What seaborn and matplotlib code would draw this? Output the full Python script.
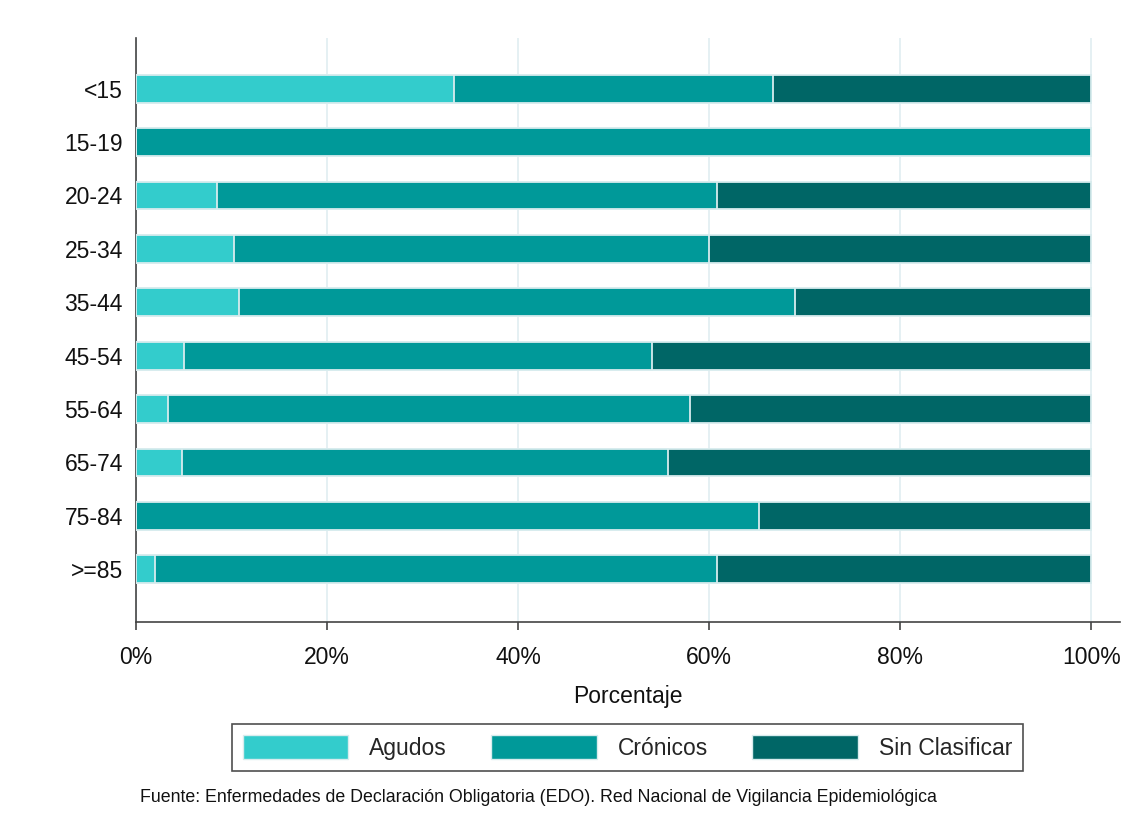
import numpy as np
import pandas as pd
import matplotlib
matplotlib.use('Agg')
import matplotlib.pyplot as plt
from matplotlib.patches import Patch
import seaborn as sns

# Data (percent of cases by age group)
grupos = ['<15', '15-19', '20-24', '25-34', '35-44', '45-54', '55-64', '65-74', '75-84', '>=85']
agudos = [33.3, 0.0, 8.5, 10.3, 10.8, 5.0, 3.4, 4.8, 0.0, 2.0]
cronicos = [33.4, 100.0, 52.3, 49.7, 58.2, 49.0, 54.6, 50.9, 65.2, 58.8]
sin_clasificar = [33.3, 0.0, 39.2, 40.0, 31.0, 46.0, 42.0, 44.3, 34.8, 39.2]

series = ['Agudos', 'Crónicos', 'Sin Clasificar']
colores = ['#33CCCC', '#009999', '#006666']

df = pd.DataFrame({'grupo': grupos, 'Agudos': agudos,
                   'Crónicos': cronicos, 'Sin Clasificar': sin_clasificar})

sns.set_style('white')
plt.rcParams['font.family'] = ['Liberation Sans', 'DejaVu Sans']

fs = 16.5

fig = plt.figure(figsize=(11.4, 8.34), dpi=100)
ax = fig.add_axes([0.1193, 0.2542, 0.8632, 0.7002])

# Stacked bars: draw cumulative totals from the back to the front
cum = df[series].cumsum(axis=1)
for serie, color in reversed(list(zip(series, colores))):
    sns.barplot(x=cum[serie], y=df['grupo'], orient='h', color=color, saturation=1,
                width=0.52, edgecolor='#d8ecee', linewidth=1.3, ax=ax, zorder=3)

ax.set_xlim(0, 103)
ax.set_ylim(9.99, -0.95)
ax.set_xticks([0, 20, 40, 60, 80, 100])
ax.set_xticklabels(['0%', '20%', '40%', '60%', '80%', '100%'])
ax.xaxis.grid(True, color='#e3eff2', linewidth=1.3, zorder=0)
ax.yaxis.grid(False)
ax.set_axisbelow(True)

for s in ['top', 'right']:
    ax.spines[s].set_visible(False)
for s in ['left', 'bottom']:
    ax.spines[s].set_color('#444444')
    ax.spines[s].set_linewidth(1.2)

ax.tick_params(axis='x', bottom=True, length=6, width=1.2, color='#444444',
               labelsize=fs, pad=11, labelcolor='#111111')
ax.tick_params(axis='y', left=False, labelsize=fs, pad=6, labelcolor='#111111')
ax.set_xlabel('Porcentaje', fontsize=fs, labelpad=12, color='#111111')
ax.set_ylabel('')

handles = [Patch(facecolor=c, edgecolor='#d8ecee', label=s) for s, c in zip(series, colores)]
leg = fig.legend(handles=handles, loc='center', bbox_to_anchor=(0.5504, 0.1037),
                 ncol=3, frameon=True, fancybox=False, edgecolor='#222222',
                 fontsize=fs, handlelength=4.6, handleheight=1.25,
                 handletextpad=0.9, columnspacing=1.95, borderpad=0.5,
                 borderaxespad=0)
leg.get_frame().set_linewidth(1.2)

fig.text(0.1228, 0.0432,
         'Fuente: Enfermedades de Declaración Obligatoria (EDO). Red Nacional de Vigilancia Epidemiológica',
         fontsize=12.75, color='#111111', va='center', ha='left')

fig.savefig('out.png', dpi=100, facecolor='white')
